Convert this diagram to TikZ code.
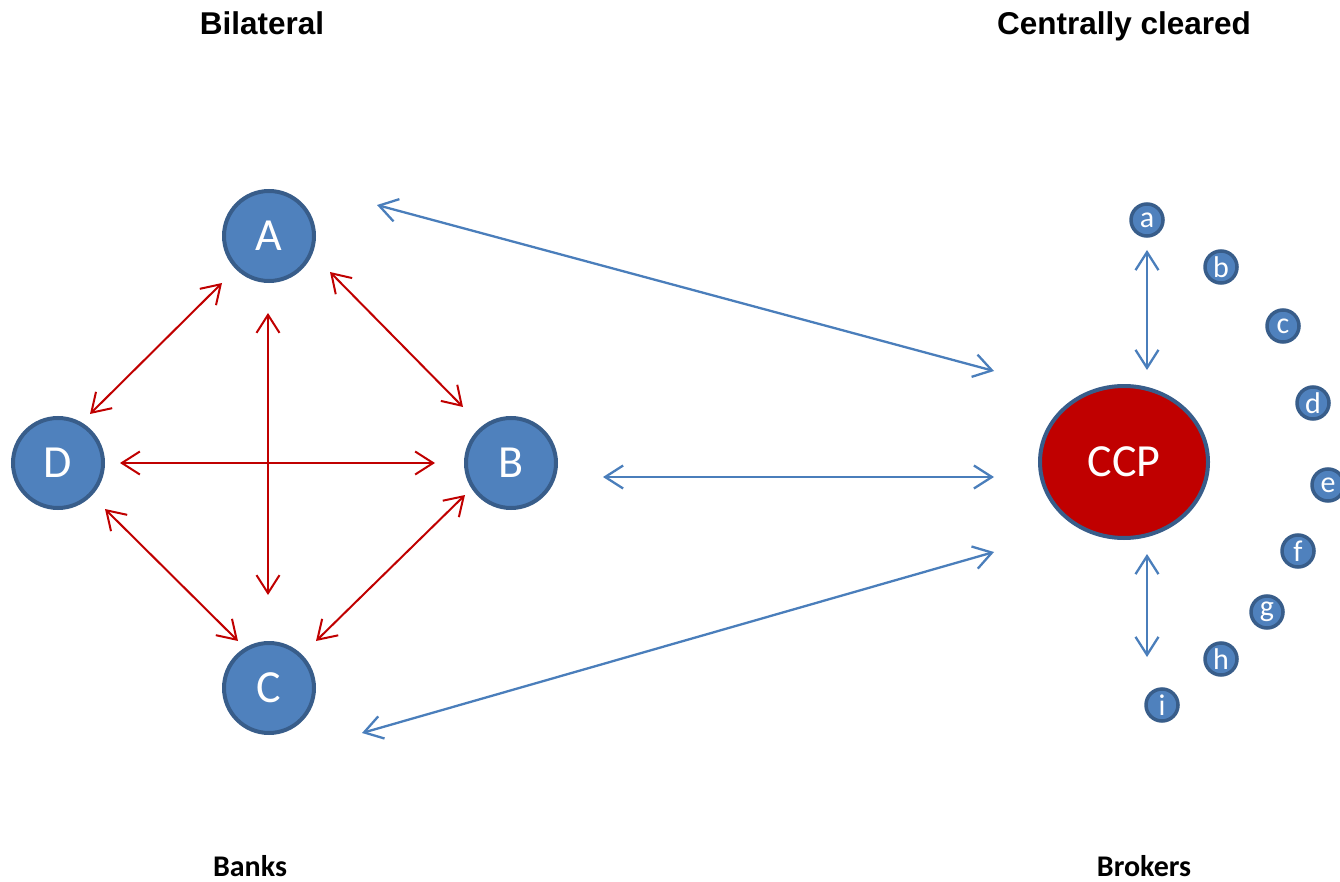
\documentclass[tikz,border=0pt]{standalone}
\usepackage{fontspec}
\setmainfont{Carlito}
\newfontfamily\headfont{Liberation Sans}
\usetikzlibrary{arrows.meta,calc,shapes.geometric}

\definecolor{bankfill}{HTML}{4F81BD}
\definecolor{bankline}{HTML}{385D8A}
\definecolor{linkblue}{HTML}{4A7EBB}
\definecolor{linkred}{HTML}{C00000}
\definecolor{ccpfill}{HTML}{C00000}

\tikzset{
  bank/.style={circle, fill=bankfill, draw=bankline, line width=4pt,
    minimum size=90pt, inner sep=0pt, text=white,
    font=\fontsize{46}{46}\selectfont},
  broker/.style={circle, fill=bankfill, draw=bankline, line width=3.5pt,
    minimum size=32pt, inner sep=0pt, text=white,
    font=\fontsize{30}{30}\selectfont},
  ccpnode/.style={ellipse, fill=ccpfill, draw=bankline, line width=4pt,
    minimum width=168pt, minimum height=152pt, inner sep=0pt, text=white,
    font=\fontsize{46}{46}\selectfont},
  heading/.style={anchor=base, font=\headfont\bfseries\fontsize{31.5}{31.5}\selectfont},
  caption/.style={anchor=base, font=\bfseries\fontsize{30}{30}\selectfont},
  barb/.tip={Straight Barb[length=18pt,width=23pt]},
  redlink/.style={barb-barb, draw=linkred, line width=2pt},
  bluelink/.style={barb-barb, draw=linkblue, line width=2.3pt},
}

\begin{document}
\begin{tikzpicture}[x=1pt,y=-1pt]
\useasboundingbox (0,0) rectangle (1340,882);

% headings and captions
\node[heading] (hbil) at (262,35) {Bilateral};
\node[heading] (hccp) at (1124,35) {Centrally cleared};
\node[caption] (cbanks) at (250,876) {Banks};
\node[caption] (cbrokers) at (1144,876) {Brokers};

% banks
\node[bank] (A) at (269,236) {A};
\node[bank] (B) at (511,463) {B};
\node[bank] (C) at (269,688) {C};
\node[bank] (D) at (58,463) {D};

% central counterparty
\node[ccpnode] (CCP) at (1124,462) {CCP};

% brokers around the CCP
\node[broker] (a) at (1147,220) {a};
\node[broker] (b) at (1221,267) {b};
\node[broker] (c) at (1283,326) {c};
\node[broker] (d) at (1313,403) {d};
\node[broker] (e) at (1328,485) {e};
\node[broker] (f) at (1298,551) {f};
\node[broker] (g) at (1267,612) {g};
\node[broker] (h) at (1221,659) {h};
\node[broker] (i) at (1162,705) {i};

% bilateral exposures between banks
\draw[redlink] ($(A)+(-47,47)$) -- ($(D)+(32,-49)$);
\draw[redlink] ($(A)+(61,36)$) -- ($(B)+(-48,-56)$);
\draw[redlink] ($(A)+(-1,77)$) -- ($(C)+(-1,-93)$);
\draw[redlink] ($(D)+(62,0)$) -- ($(B)+(-76,0)$);
\draw[redlink] ($(D)+(47,46)$) -- ($(C)+(-31,-47)$);
\draw[redlink] ($(B)+(-46,32)$) -- ($(C)+(47,-47)$);

% links to the CCP
\draw[bluelink] ($(A)+(108,-31)$) -- ($(CCP)+(-130,-91)$);
\draw[bluelink] ($(B)+(92,14)$) -- ($(CCP)+(-130,15)$);
\draw[bluelink] ($(C)+(93,45)$) -- ($(CCP)+(-130,90)$);
\draw[bluelink] ($(a)+(0,30)$) -- ($(CCP)+(23,-92)$);
\draw[bluelink] ($(CCP)+(23,92)$) -- ($(i)+(-15,-48)$);
\end{tikzpicture}
\end{document}
